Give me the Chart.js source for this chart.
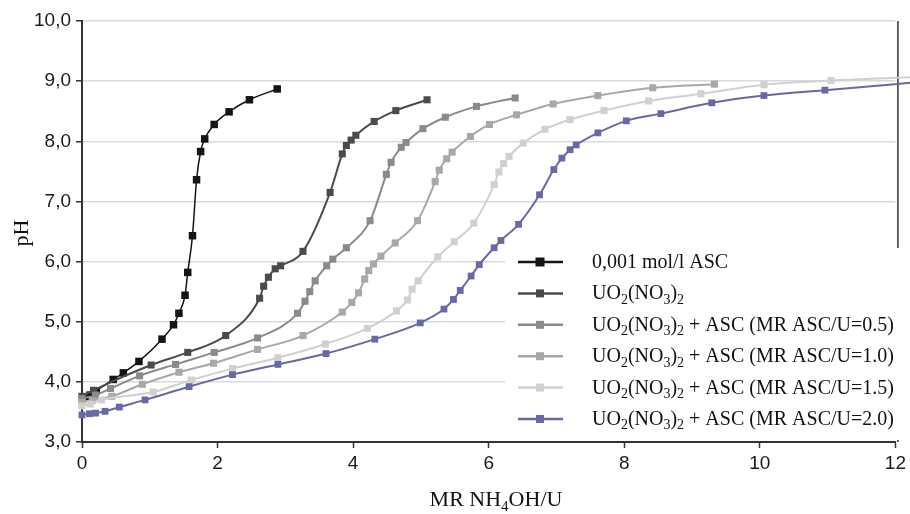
<!DOCTYPE html>
<html>
<head>
<meta charset="utf-8">
<script src="https://cdn.jsdelivr.net/npm/chart.js@4.4.1/dist/chart.umd.min.js"></script>
<style>
  body { margin: 0; background: #fff; }
  #wrap { width: 910px; height: 514px; position: relative; }
</style>
</head>
<body>
<div id="wrap"><canvas id="myChart"></canvas></div>
<script>
// titration curves, pH vs MR NH4OH/U
const xAsc = [0.05, 0.12, 0.21, 0.46, 0.61, 0.84, 1.18, 1.35, 1.43, 1.52, 1.56, 1.63, 1.69, 1.75, 1.81, 1.95, 2.17, 2.47, 2.88];
const yAsc = [3.75, 3.78, 3.85, 4.04, 4.15, 4.34, 4.71, 4.95, 5.14, 5.44, 5.82, 6.43, 7.36, 7.83, 8.04, 8.28, 8.49, 8.69, 8.87];

const xU = [0.0, 0.17, 1.02, 1.56, 2.12, 2.62, 2.68, 2.75, 2.85, 2.93, 3.26, 3.66, 3.84, 3.90, 3.97, 4.04, 4.31, 4.63, 5.09];
const yU = [3.76, 3.86, 4.28, 4.49, 4.77, 5.39, 5.59, 5.74, 5.88, 5.93, 6.17, 7.15, 7.79, 7.93, 8.02, 8.10, 8.33, 8.51, 8.69];

const xU05 = [0.0, 0.2, 0.42, 0.85, 1.38, 1.95, 2.59, 3.18, 3.29, 3.36, 3.44, 3.61, 3.70, 3.90, 4.25, 4.49, 4.56, 4.71, 4.78, 5.03, 5.36, 5.82, 6.39];
const yU05 = [3.72, 3.78, 3.89, 4.10, 4.29, 4.49, 4.73, 5.14, 5.34, 5.50, 5.68, 5.93, 6.04, 6.23, 6.68, 7.45, 7.65, 7.90, 7.98, 8.21, 8.40, 8.58, 8.72];

const xU10 = [0.0, 0.15, 0.44, 0.89, 1.43, 1.94, 2.59, 3.26, 3.84, 3.98, 4.08, 4.17, 4.23, 4.30, 4.41, 4.62, 4.95, 5.21, 5.27, 5.38, 5.46, 5.73, 6.01, 6.41, 6.95, 7.61, 8.42, 9.33];
const yU10 = [3.66, 3.69, 3.76, 3.96, 4.16, 4.31, 4.54, 4.77, 5.16, 5.32, 5.48, 5.71, 5.85, 5.96, 6.09, 6.31, 6.68, 7.33, 7.52, 7.71, 7.82, 8.08, 8.28, 8.44, 8.62, 8.76, 8.89, 8.95];

const xU15 = [0.0, 0.12, 0.29, 1.05, 1.61, 2.22, 2.89, 3.59, 4.21, 4.64, 4.80, 4.87, 4.96, 5.25, 5.49, 5.78, 6.08, 6.15, 6.22, 6.30, 6.51, 6.83, 7.20, 7.70, 8.36, 9.13, 10.06, 11.05, 12.5];
const yU15 = [3.60, 3.63, 3.70, 3.83, 4.03, 4.22, 4.40, 4.63, 4.89, 5.18, 5.36, 5.54, 5.68, 6.08, 6.33, 6.64, 7.28, 7.49, 7.63, 7.75, 7.97, 8.20, 8.36, 8.51, 8.67, 8.79, 8.94, 9.01, 9.08];

const xU20 = [0.0, 0.11, 0.20, 0.34, 0.55, 0.93, 1.58, 2.22, 2.89, 3.60, 4.32, 4.99, 5.34, 5.48, 5.58, 5.74, 5.86, 6.08, 6.18, 6.44, 6.75, 6.96, 7.08, 7.20, 7.29, 7.61, 8.03, 8.54, 9.29, 10.06, 10.96, 12.5];
const yU20 = [3.45, 3.47, 3.48, 3.51, 3.58, 3.70, 3.92, 4.12, 4.29, 4.47, 4.71, 4.98, 5.21, 5.37, 5.52, 5.76, 5.95, 6.23, 6.35, 6.62, 7.11, 7.53, 7.72, 7.86, 7.94, 8.14, 8.34, 8.46, 8.64, 8.76, 8.85, 9.00];

// {n} marks a subscript
const seriesNames = [
    '0,001 mol/l ASC',
    'UO{2}(NO{3}){2}',
    'UO{2}(NO{3}){2} + ASC (MR ASC/U=0.5)',
    'UO{2}(NO{3}){2} + ASC (MR ASC/U=1.0)',
    'UO{2}(NO{3}){2} + ASC (MR ASC/U=1.5)',
    'UO{2}(NO{3}){2} + ASC (MR ASC/U=2.0)',
];
const seriesX = [xAsc, xU, xU05, xU10, xU15, xU20];
const seriesY = [yAsc, yU, yU05, yU10, yU15, yU20];
const colors = ['#141414', '#4b4b4b', '#8a8a8a', '#a8a8a8', '#d0d0d0', '#6868a6'];
const radii = [5.3, 5, 5, 5, 5, 4.8];
const widths = [1.5, 2, 2, 2, 2, 2];

const yTicks = [3, 4, 5, 6, 7, 8, 9, 10];
const xTicks = [0, 2, 4, 6, 8, 10, 12];

const serif = '"Liberation Serif", "Times New Roman", serif';

function drawRich(ctx, str, x, y, size, align) {
    const parts = str.split(/(\{[^}]*\})/).filter(s => s.length);
    const pieces = parts.map(p => {
        const sub = p[0] === '{';
        const t = sub ? p.slice(1, -1) : p;
        ctx.font = (sub ? Math.round(size * 0.68) : size) + 'px ' + serif;
        return { t, sub, w: ctx.measureText(t).width };
    });
    const total = pieces.reduce((a, p) => a + p.w, 0);
    let cx = align === 'center' ? x - total / 2 : x;
    ctx.textAlign = 'left';
    ctx.textBaseline = 'alphabetic';
    pieces.forEach(p => {
        ctx.font = (p.sub ? Math.round(size * 0.68) : size) + 'px ' + serif;
        ctx.fillText(p.t, cx, p.sub ? y + size * 0.22 : y);
        cx += p.w;
    });
}

const extras = {
    id: 'extras',
    beforeDatasetsDraw(chart) {
        const { ctx, chartArea } = chart;
        ctx.save();
        ctx.strokeStyle = '#333';
        ctx.lineWidth = 1.5;
        ctx.beginPath();
        ctx.moveTo(chartArea.right + 2.5, chartArea.top);
        ctx.lineTo(chartArea.right + 2.5, chartArea.bottom);
        ctx.stroke();
        ctx.restore();
    },
    afterDraw(chart) {
        const { ctx } = chart;
        ctx.save();
        // legend box
        ctx.fillStyle = '#fff';
        ctx.fillRect(505, 248, 405, 192);
        seriesNames.forEach((name, i) => {
            const y = 262 + i * 31.4;
            ctx.strokeStyle = colors[i];
            ctx.lineWidth = 2.5;
            ctx.beginPath();
            ctx.moveTo(518, y);
            ctx.lineTo(563, y);
            ctx.stroke();
            ctx.fillStyle = colors[i];
            const s = i === 0 ? 9 : 8;
            ctx.fillRect(540 - s / 2, y - s / 2, s, s);
            ctx.fillStyle = '#111';
            drawRich(ctx, name, 592, y + 6, 20, 'left');
        });
        // axis titles
        ctx.fillStyle = '#111';
        drawRich(ctx, 'MR NH{4}OH/U', 496, 506, 22, 'center');
        ctx.translate(28, 233);
        ctx.rotate(-Math.PI / 2);
        drawRich(ctx, 'pH', 0, 0, 22, 'center');
        ctx.restore();
    }
};

const datasets = seriesNames.map((name, i) => ({
    label: name.replace(/[{}]/g, ''),
    data: seriesX[i].map((x, j) => ({ x: x, y: seriesY[i][j] })),
    borderColor: colors[i],
    backgroundColor: colors[i],
    borderWidth: widths[i],
    pointStyle: 'rect',
    pointRadius: radii[i],
    pointBorderWidth: 0,
    pointHoverRadius: radii[i],
    showLine: true,
    cubicInterpolationMode: 'monotone',
    clip: false,
    order: 6 - i,
}));

const tickFont = { family: '"Liberation Sans Narrow", "Liberation Sans", Arial, sans-serif', size: 19 };

const myChart = new Chart(document.getElementById('myChart'), {
    type: 'scatter',
    data: { datasets: datasets },
    options: {
        responsive: true,
        maintainAspectRatio: false,
        animation: false,
        layout: { padding: { top: 21, right: 10, left: 0, bottom: 0 } },
        plugins: {
            legend: { display: false },
            tooltip: { enabled: false },
        },
        scales: {
            x: {
                type: 'linear',
                min: 0,
                max: 12,
                afterBuildTicks: s => { s.ticks = xTicks.map(v => ({ value: v })); },
                afterFit: s => { s.height = 72; },
                ticks: { color: '#1a1a1a', font: tickFont, padding: 4, maxRotation: 0 },
                grid: { drawOnChartArea: false, tickLength: 6, tickColor: '#333', tickWidth: 1.5 },
                border: { color: '#333', width: 2 },
            },
            y: {
                min: 3,
                max: 10,
                afterBuildTicks: s => { s.ticks = yTicks.map(v => ({ value: v })); },
                afterFit: s => { s.width = 82; },
                ticks: {
                    color: '#1a1a1a',
                    font: tickFont,
                    padding: 5,
                    callback: v => v.toFixed(1).replace('.', ','),
                },
                grid: { color: '#d9d9d9', lineWidth: 1.5, tickLength: 6, tickColor: '#333', tickWidth: 1.5 },
                border: { color: '#333', width: 2 },
            },
        },
    },
    plugins: [extras],
});
</script>
</body>
</html>
